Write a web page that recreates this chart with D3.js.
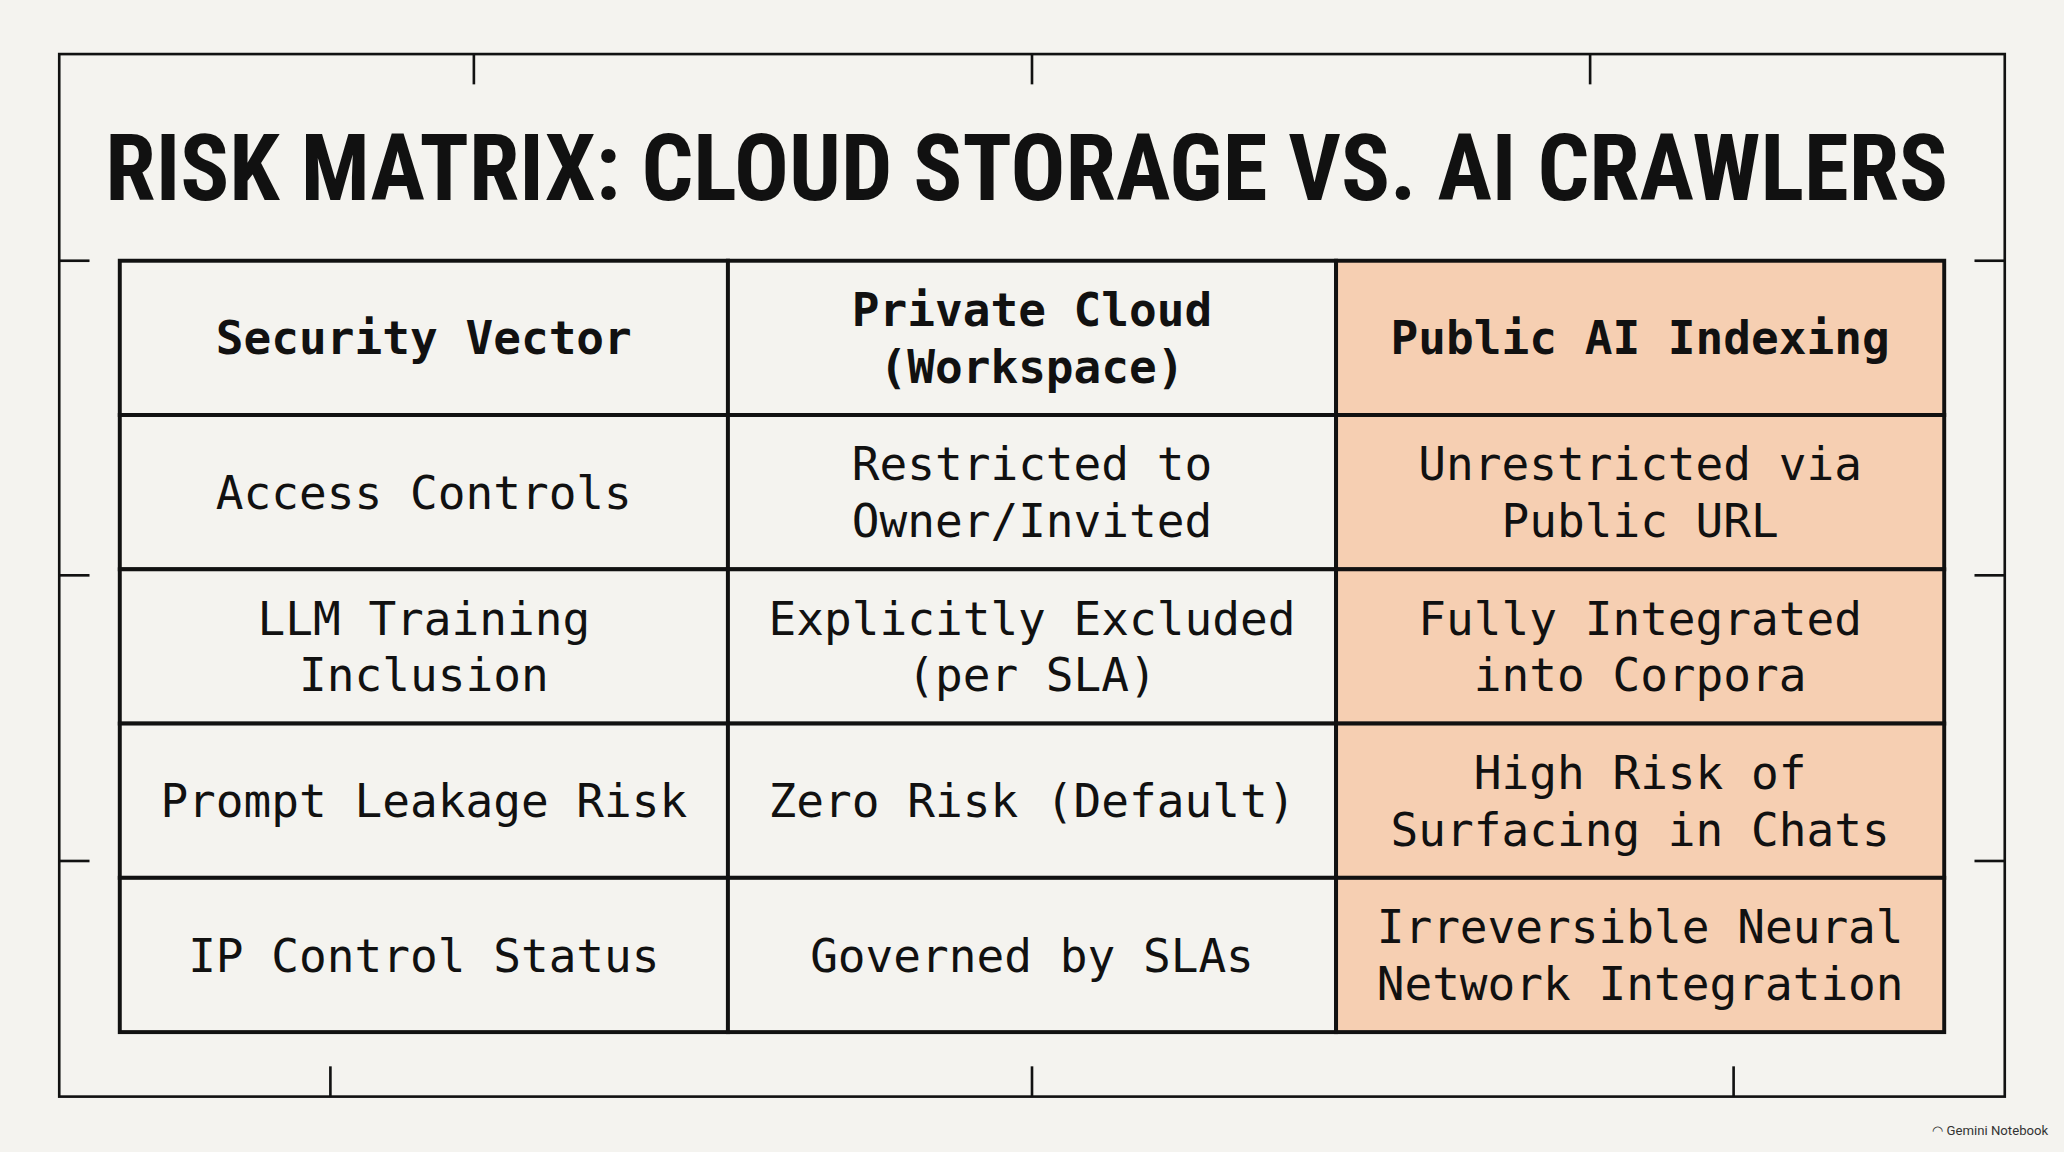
<!DOCTYPE html>
<html><head><meta charset="utf-8">
<script src="https://cdn.jsdelivr.net/npm/d3@7"></script>
<style>html,body{margin:0;padding:0;background:#f4f3ef;overflow:hidden}</style>
</head><body>
<script>
const title = "RISK MATRIX: CLOUD STORAGE VS. AI CRAWLERS";
const headers = [["Security Vector"], ["Private Cloud", "(Workspace)"], ["Public AI Indexing"]];
const rowLabels = [["Access Controls"], ["LLM Training", "Inclusion"], ["Prompt Leakage Risk"], ["IP Control Status"]];
const privateCloud = [["Restricted to", "Owner/Invited"], ["Explicitly Excluded", "(per SLA)"], ["Zero Risk (Default)"], ["Governed by SLAs"]];
const publicAI = [["Unrestricted via", "Public URL"], ["Fully Integrated", "into Corpora"], ["High Risk of", "Surfacing in Chats"], ["Irreversible Neural", "Network Integration"]];

const W = 1568, H = 875;
const svg = d3.select("body").append("svg").attr("width", 2064).attr("height", 1152).attr("viewBox", `0 0 ${W} ${H}`);
svg.append("rect").attr("width", W).attr("height", H).attr("fill", "#f4f3ef");

const ink = "#111";
// frame
svg.append("rect").attr("x", 45).attr("y", 41).attr("width", 1478).attr("height", 792).attr("fill", "none").attr("stroke", ink).attr("stroke-width", 2);
[360, 784, 1208].forEach(x => svg.append("line").attr("x1", x).attr("x2", x).attr("y1", 41).attr("y2", 64).attr("stroke", ink).attr("stroke-width", 2));
[251, 784, 1317].forEach(x => svg.append("line").attr("x1", x).attr("x2", x).attr("y1", 810).attr("y2", 833).attr("stroke", ink).attr("stroke-width", 2));
[198, 437, 654].forEach(y => {
  svg.append("line").attr("x1", 45).attr("x2", 68).attr("y1", y).attr("y2", y).attr("stroke", ink).attr("stroke-width", 2);
  svg.append("line").attr("x1", 1500).attr("x2", 1523).attr("y1", y).attr("y2", y).attr("stroke", ink).attr("stroke-width", 2);
});

svg.append("text").attr("x", 780).attr("y", 152).attr("text-anchor", "middle")
  .attr("font-family", "'Liberation Sans Narrow','Roboto Condensed','DejaVu Sans Condensed',sans-serif")
  .attr("font-weight", "bold").attr("font-size", 70).attr("fill", ink)
  .attr("textLength", 1400).attr("lengthAdjust", "spacingAndGlyphs").text(title);

const cols = [0, 1, 2];
const x = d3.scaleBand().domain(cols).range([91, 1477]);
const rows = d3.range(rowLabels.length + 1);
const y = d3.scaleBand().domain(rows).range([198, 784]);

const cells = [];
headers.forEach((t, c) => cells.push({r: 0, c, lines: t, bold: true}));
rowLabels.forEach((t, i) => {
  cells.push({r: i + 1, c: 0, lines: t});
  cells.push({r: i + 1, c: 1, lines: privateCloud[i]});
  cells.push({r: i + 1, c: 2, lines: publicAI[i]});
});

const g = svg.append("g");
g.selectAll("rect").data(cells).join("rect")
  .attr("x", d => x(d.c)).attr("y", d => y(d.r)).attr("width", x.bandwidth()).attr("height", y.bandwidth())
  .attr("fill", d => d.c === 2 ? "#f6cfb2" : "#f4f3ef").attr("stroke", ink).attr("stroke-width", 3);

const lh = 43;
cells.forEach(d => {
  const cx = x(d.c) + x.bandwidth() / 2, cy = y(d.r) + y.bandwidth() / 2;
  const n = d.lines.length;
  d.lines.forEach((t, i) => {
    g.append("text").attr("x", cx).attr("y", cy + (i - (n - 1) / 2) * lh).attr("dy", "0.36em")
      .attr("text-anchor", "middle").attr("font-family", "'DejaVu Sans Mono',monospace")
      .attr("font-weight", d.bold ? "bold" : "normal").attr("font-size", 35).attr("fill", ink).text(t);
  });
});

svg.append("text").attr("x", 1556).attr("y", 862).attr("text-anchor", "end")
  .attr("font-family", "Roboto,sans-serif").attr("font-size", 10).attr("fill", "#333").text("◠ Gemini Notebook");
</script>
</body></html>
